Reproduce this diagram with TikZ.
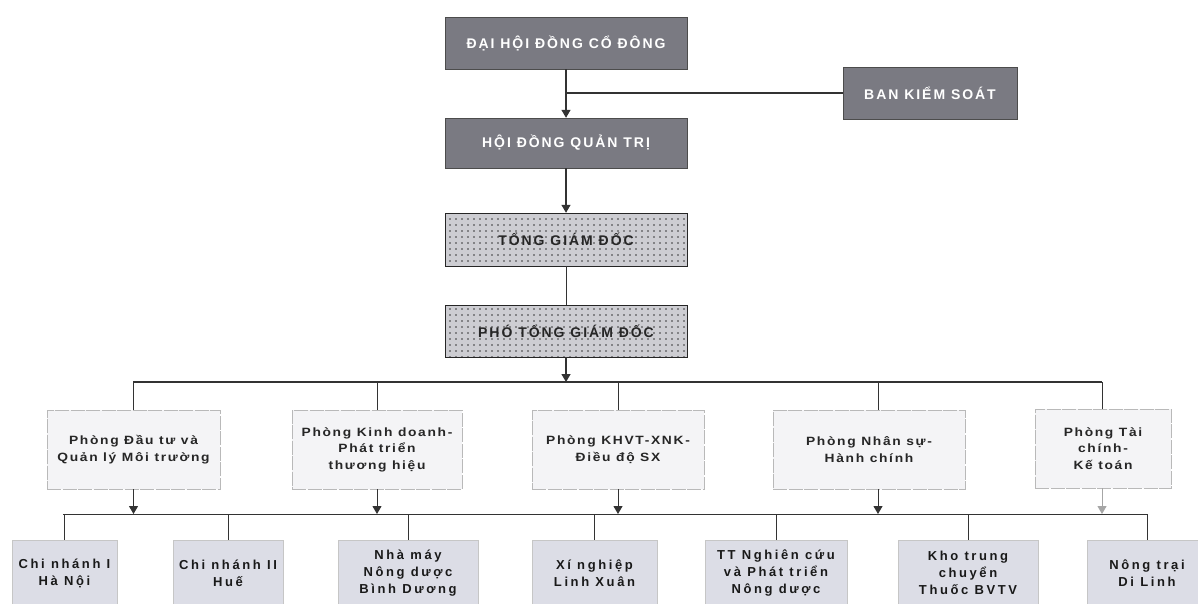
\documentclass[tikz,border=0pt]{standalone}
\usepackage{fontspec}
\setmainfont{Liberation Sans}
\newfontfamily\toplbl[LetterSpace=14]{Liberation Sans}
\newfontfamily\deptlbl[LetterSpace=14,FakeStretch=1.15]{Liberation Sans}
\newfontfamily\unitlbl[LetterSpace=20]{Liberation Sans}
\usetikzlibrary{arrows.meta,patterns.meta,calc}
\definecolor{topfill}{HTML}{7A7A82}
\definecolor{deptfill}{HTML}{F4F4F6}
\definecolor{unitfill}{HTML}{DCDDE6}
\definecolor{dotfill}{HTML}{CDCDD2}
\definecolor{linec}{HTML}{333333}
\tikzset{
  topbox/.style={draw=gray!60!black, fill=topfill, text=white, font=\toplbl\bfseries\fontsize{14}{16}\selectfont, inner sep=0pt, align=center},
  dotbox/.style={draw=gray!30!black, preaction={fill=dotfill}, pattern={Dots[distance=6pt,radius=0.8pt]}, pattern color=gray!45!black, text=black!85, font=\toplbl\bfseries\fontsize{14}{16}\selectfont, inner sep=0pt, align=center},
  deptbox/.style={draw=gray!55, dash pattern=on 14pt off 1.5pt, fill=deptfill, text=black!85, font=\deptlbl\bfseries\fontsize{12}{16.5}\selectfont, inner sep=0pt, align=center},
  unitbox/.style={draw=gray!45, fill=unitfill, text=black!90, font=\unitlbl\bfseries\fontsize{13}{17}\selectfont, inner sep=0pt, align=center},
  conn/.style={draw=linec, line width=1.3pt},
  thin conn/.style={draw=gray!40!black, line width=1pt},
  arr/.style={-{Triangle[length=8pt,width=9pt]}},
}
\begin{document}
\begin{tikzpicture}[x=1pt,y=-1pt]
\useasboundingbox (0,0) rectangle (1198,603);
\clip (0,0) rectangle (1198,603);
\fill[white] (0,0) rectangle (1198,603);

% top level
\node[topbox, minimum width=242, minimum height=52] (dhd) at (566,43) {ĐẠI HỘI ĐỒNG CỔ ĐÔNG};
\node[topbox, minimum width=174, minimum height=52] (bks) at (930,93) {BAN KIỂM SOÁT};
\node[topbox, minimum width=242, minimum height=50] (hdqt) at (566,143) {HỘI ĐỒNG QUẢN TRỊ};
\node[dotbox, minimum width=242, minimum height=53] (tgd) at (566,239.5) {TỔNG GIÁM ĐỐC};
\node[dotbox, minimum width=242, minimum height=52] (ptgd) at (566,331) {PHÓ TỔNG GIÁM ĐỐC};

% departments
\node[deptbox, minimum width=173, minimum height=79] (d1) at (133.5,449.5) {Phòng Đầu tư và\\Quản lý Môi trường};
\node[deptbox, minimum width=170, minimum height=79] (d2) at (377,449.5) {Phòng Kinh doanh-\\Phát triển\\thương hiệu};
\node[deptbox, minimum width=172, minimum height=79] (d3) at (618,449.5) {Phòng KHVT-XNK-\\Điều độ SX};
\node[deptbox, minimum width=192, minimum height=79] (d4) at (869,449.5) {Phòng Nhân sự-\\Hành chính};
\node[deptbox, minimum width=136, minimum height=79] (d5) at (1103,448.5) {Phòng Tài\\chính-\\Kế toán};

% units
\node[unitbox, minimum width=105, minimum height=66] (b1) at (64.5,573) {Chi nhánh I\\Hà Nội};
\node[unitbox, minimum width=110, minimum height=66] (b2) at (228,573) {Chi nhánh II\\Huế};
\node[unitbox, minimum width=140, minimum height=66] (b3) at (408,573) {Nhà máy\\Nông dược\\Bình Dương};
\node[unitbox, minimum width=125, minimum height=66] (b4) at (594.5,573) {Xí nghiệp\\Linh Xuân};
\node[unitbox, minimum width=142, minimum height=66] (b5) at (776,573) {TT Nghiên cứu\\và Phát triển\\Nông dược};
\node[unitbox, minimum width=140, minimum height=66] (b6) at (968,573) {Kho trung\\chuyển\\Thuốc BVTV};
\node[unitbox, minimum width=120, minimum height=66] (b7) at (1147,573) {Nông trại\\Di Linh};

% connectors top
\coordinate (j1) at (dhd.south |- bks.west);
\draw[conn, arr] (dhd.south) -- (hdqt.north);
\draw[conn] (j1) -- (bks.west);
\draw[conn, arr] (hdqt.south) -- (tgd.north);
\draw[thin conn] (tgd.south) -- (ptgd.north);

% upper bar
\coordinate (ubl) at (133,382);
\coordinate (ubr) at (1102,382);
\draw[conn, arr] (ptgd.south) -- (ptgd.south |- ubl);
\draw[conn] (ubl) -- (ubr);
\coordinate (d4top) at ($(d4.north)+(9,0)$);
\coordinate (d5top) at ($(d5.north)+(-1,0)$);
\foreach \n in {d1,d2,d3} \draw[thin conn] (\n.north |- ubl) -- (\n.north);
\draw[thin conn] (d4top |- ubl) -- (d4top);
\draw[thin conn] (d5top |- ubl) -- (d5top);

% lower bar
\coordinate (lbl) at (63,514);
\coordinate (lbr) at (1148,514);
\draw[thin conn] (lbl) -- (lbr);
\foreach \n in {d1,d2,d3} \draw[thin conn, arr] (\n.south) -- (\n.south |- lbl);
\coordinate (d4bot) at ($(d4.south)+(9,0)$);
\coordinate (d5bot) at ($(d5.south)+(-1,0)$);
\draw[thin conn, arr] (d4bot) -- (d4bot |- lbl);
\draw[thin conn, arr, draw=gray!70] (d5bot) -- (d5bot |- lbl);

% unit drops
\foreach \n in {b1,b2,b3,b4,b5,b6,b7} \draw[thin conn] (\n.north |- lbl) -- (\n.north);
\end{tikzpicture}
\end{document}
